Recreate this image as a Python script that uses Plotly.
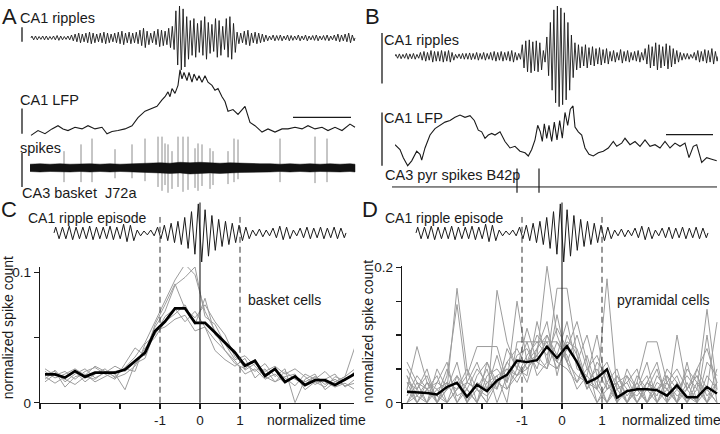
import plotly.graph_objects as go

# ---------------- data ----------------
# A: CA1 ripple (amplitude per ripple cycle, arbitrary units)
ripple_A_amp = [2, 2, 1.5, 2, 2, 1.5, 2, 2.5, 2, 1.5, 2, 3,
                4, 5, 4, 5, 6, 5, 4, 5, 6, 5, 4, 5, 6, 7, 5, 6, 5,
                6, 8, 10, 7, 5, 7, 9, 8, 7, 10, 12,
                28, 33, 30, 22,
                18, 20, 15, 18, 22, 16, 14, 20, 18, 12, 20, 22, 15,
                6, 5, 7, 8, 5, 6, 5, 4,
                3, 2, 3, 2.5, 3, 2, 3, 2.5, 2, 3, 2, 3, 2, 2.5, 3, 2, 2.5, 3, 2, 3, 4, 3, 4, 5, 3]
ripple_A_span = [1, 325]

# A: CA1 LFP (time ms, amplitude)
lfp_A_t = [1, 8, 15, 22, 28, 33, 38, 45, 52, 58, 65, 72, 77, 82, 88, 95, 102, 108, 115, 122,
           127, 132, 135, 138, 140, 142, 145, 148, 149, 150, 152, 154, 157, 159, 162, 164, 167,
           169, 172, 175, 178, 182, 185, 188, 192, 195, 198, 203, 208, 215, 220, 225, 232, 238,
           245, 252, 258, 265, 272, 278, 285, 292, 298, 305, 312, 320, 325]
lfp_A_v = [-0.7, 4.3, 1, 6, 9.3, 6, 4.3, 7.7, 6, 9.3, 6, 7.7, 1, 3.3, 4.3, 6, 9.3, 17.7, 24.3, 27.7,
           29.3, 36, 39.3, 44.3, 39.3, 47.7, 42.7, 51, 61, 67, 57.7, 64.3, 56, 64.3, 54.3, 62.7, 56,
           61, 54.3, 61, 54.3, 51, 46, 47.7, 39.3, 34.3, 24.3, 26, 21, 29.3, 12.7, 9.3, 2.7, 6,
           2.7, 6, 6, 7.7, 6, 9.3, 6, 7.7, 4.3, 7.7, 4.3, 11, 7.7]
lfp_A_bar = [263, 321, 18]   # horizontal time scale bar (t0, t1, level)

# A: CA3 basket cell J72a spikes
spike_A_t = [34, 51, 62, 85, 102, 115, 128, 132, 135, 138, 142, 148, 153, 158, 165, 168, 172,
             180, 183, 198, 204, 208, 250, 285, 297]
spike_A_top = [17, 24, 30, 19, 24, 30, 32, 32, 25, 24, 17, 32, 32, 32, 20, 25, 24, 20, 17, 17,
               30, 29, 30, 32, 30]
spike_A_bottom = [-15, -15, -15, -11, -11, -14, -20, -24, -18, -26, -22, -20, -25, -23, -21, -24,
                  -19, -22, -18, -17, -15, -12, -15, -16, -15]
noise_A_t = [0, 10, 20, 30, 40, 50, 60, 70, 80, 90, 100, 110, 120, 130, 140, 150, 160, 170, 180,
             190, 200, 210, 220, 230, 240, 250, 260, 270, 280, 290, 300, 310, 320, 325]
noise_A_upper = [3.5, 4, 3.5, 4, 3.5, 4, 4, 3.5, 4, 3.5, 4, 4, 4.5, 5, 4.5, 5.5, 5, 5.5, 5, 4.5,
                 5, 4.5, 4.5, 4, 4, 3.5, 4, 3.5, 4, 3.5, 4, 3.5, 4, 3.5]
noise_A_lower = [-4, -4.5, -4, -4, -4.5, -4, -4.5, -4, -4.5, -4, -4.5, -4.5, -5, -5.5, -6, -5.5,
                 -6.5, -6, -5.5, -6, -5.5, -5, -5, -4.5, -4.5, -4, -4.5, -4, -4.5, -4, -4, -4.5,
                 -4, -4.5]

# B: CA1 ripple
ripple_B_amp = [2, 2.5, 2, 3, 2.5, 3, 2,
                4, 5, 4, 6, 5, 5, 6, 5, 6, 4,
                2, 2.5, 3, 3, 3.5, 3, 4, 3, 4,
                3, 4, 5, 4, 5, 4, 5, 6, 4, 3,
                12, 16, 17, 15, 16, 14, 6,
                20, 35, 48, 52, 50, 45, 35, 22,
                14, 12, 10, 12, 9, 10, 8, 9, 7, 8,
                5, 6, 4, 7, 5, 6, 4, 5, 6, 4,
                8, 12, 10, 14, 12, 10, 13, 11, 8, 6, 4, 3,
                3, 2, 4, 6, 5, 7, 6, 8, 5]
ripple_B_span = [0, 323]

# B: CA1 LFP
lfp_B_t = [0, 5, 8.3, 12.7, 16.7, 21.7, 25, 26.7, 30, 35, 40, 45, 50, 55, 60, 65, 70, 75, 79.3,
           83.3, 86.7, 90, 93.3, 96.7, 100, 105, 110, 115, 120, 125, 130, 133.3, 136.7, 140,
           142.7, 145.3, 147.3, 149.3, 151.7, 154, 156.7, 159.3, 162, 164.7, 167.3, 170, 172.7,
           175.3, 178, 180, 183.3, 186.7, 190, 194, 198.3, 203.3, 208.3, 213.3, 218.3, 221.7,
           226.7, 230, 235, 240, 245, 250, 255, 260, 265, 270, 275, 280, 285, 290, 294, 298.3,
           301.7, 306.7, 311.7, 316.7, 321.7]
lfp_B_v = [21.7, 16.7, 8.3, 0, 5, 15, 11.7, 5.7, 18.3, 31.7, 38.3, 41.7, 45, 46.7, 50, 52.3, 50,
           51.7, 46.7, 36.7, 35, 28.3, 31.7, 33.3, 31.7, 35, 25, 18.3, 20, 15, 13.3, 10, 16.7,
           26.7, 41.7, 35, 25, 43.3, 28.3, 41.7, 25, 45, 26.7, 46.7, 28.3, 55, 41.7, 58.3, 61.7,
           40, 35, 31.7, 18.3, 11.7, 10, 13.3, 15, 18.3, 25, 20, 23.3, 28.3, 21.7, 25, 20, 26.7,
           20, 21.7, 18.3, 25, 18.3, 23.3, 20, 23.3, 8.3, 20, 21.7, 3.3, 8.3, 6.7, 5]
lfp_B_bar = [271, 318, 32]

# B: CA3 pyramidal cell B42p spikes
spike_B_t = [122, 144]
spike_B_top = [19, 19]
spike_B_bottom = [-6, -6]
spike_B_span = [-3, 322]

# C/D: averaged CA1 ripple episode (amplitude per cycle)
episode_amp = [6, 6, 7, 6, 6, 7, 6, 6, 7, 6, 9, 8, 3, 2, 3,
               6, 8, 10, 12, 16, 22, 30, 24, 18, 14, 12, 10, 8, 6,
               3, 4, 3, 5, 7, 6, 3, 5, 6, 5, 6, 5, 6, 5]
episode_span = [-3.65, 3.65]

time_bins = [-3.875, -3.625, -3.375, -3.125, -2.875, -2.625, -2.375, -2.125, -1.875, -1.625,
             -1.375, -1.125, -0.875, -0.625, -0.375, -0.125, 0.125, 0.375, 0.625, 0.875, 1.125,
             1.375, 1.625, 1.875, 2.125, 2.375, 2.625, 2.875, 3.125, 3.375, 3.625, 3.875]

basket_mean = [0.0217, 0.0217, 0.0193, 0.0242, 0.0198, 0.0230, 0.0230, 0.0230, 0.0254, 0.0321,
               0.0383, 0.0548, 0.0622, 0.0723, 0.0723, 0.0612, 0.0612, 0.0538, 0.0464, 0.0383,
               0.0284, 0.0321, 0.0205, 0.0259, 0.0160, 0.0202, 0.0136, 0.0173, 0.0173, 0.0136,
               0.0178, 0.0222]
basket_cells = [
    [0.024, 0.019, 0.022, 0.026, 0.021, 0.028, 0.024, 0.020, 0.027, 0.035, 0.046, 0.062, 0.078,
     0.094, 0.106, 0.098, 0.070, 0.055, 0.040, 0.030, 0.026, 0.033, 0.022, 0.025, 0.019, 0.013,
     0.022, 0.018, 0.024, 0.016, 0.020, 0.026],
    [0.018, 0.025, 0.016, 0.022, 0.026, 0.019, 0.023, 0.028, 0.024, 0.031, 0.040, 0.058, 0.070,
     0.090, 0.096, 0.104, 0.066, 0.060, 0.045, 0.033, 0.036, 0.028, 0.020, 0.016, 0.024, 0.018,
     0.014, 0.020, 0.016, 0.012, 0.015, 0.010],
    [0.026, 0.021, 0.024, 0.018, 0.024, 0.027, 0.022, 0.018, 0.030, 0.042, 0.036, 0.060, 0.075,
     0.091, 0.072, 0.065, 0.075, 0.062, 0.052, 0.035, 0.030, 0.024, 0.030, 0.020, 0.026, 0.000,
     0.018, 0.022, 0.010, 0.016, 0.020, 0.043],
    [0.020, 0.015, 0.020, 0.024, 0.016, 0.022, 0.026, 0.019, 0.022, 0.028, 0.042, 0.050, 0.062,
     0.068, 0.075, 0.060, 0.080, 0.052, 0.045, 0.040, 0.025, 0.030, 0.024, 0.028, 0.022, 0.026,
     0.020, 0.014, 0.018, 0.022, 0.012, 0.018],
    [0.016, 0.022, 0.018, 0.014, 0.020, 0.018, 0.024, 0.022, 0.010, 0.030, 0.034, 0.055, 0.058,
     0.064, 0.067, 0.055, 0.058, 0.048, 0.040, 0.032, 0.022, 0.026, 0.018, 0.022, 0.015, 0.020,
     0.016, 0.020, 0.014, 0.018, 0.013, 0.015],
    [0.022, 0.024, 0.012, 0.020, 0.022, 0.016, 0.020, 0.024, 0.026, 0.024, 0.045, 0.052, 0.066,
     0.072, 0.062, 0.070, 0.058, 0.040, 0.033, 0.028, 0.034, 0.019, 0.026, 0.016, 0.020, 0.022,
     0.010, 0.016, 0.012, 0.020, 0.017, 0.024],
]

pyr_mean = [0.0162, 0.0155, 0.0145, 0.0124, 0.0233, 0.0295, 0.0090, 0.0267, 0.0171, 0.0329,
            0.0414, 0.0624, 0.0600, 0.0629, 0.0829, 0.0662, 0.0838, 0.0600, 0.0295, 0.0367,
            0.0495, 0.0076, 0.0171, 0.0200, 0.0200, 0.0186, 0.0105, 0.0257, 0.0081, 0.0081,
            0.0233, 0.0138]
pyr_cells = [
    [0.02, 0.083, 0.03, 0.0, 0.02, 0.04, 0.0, 0.02, 0.01, 0.03, 0.05, 0.04, 0.06, 0.07, 0.09, 0.05,
     0.08, 0.06, 0.02, 0.04, 0.0, 0.02, 0.03, 0.0, 0.02, 0.0, 0.04, 0.02, 0.0, 0.02, 0.138, 0.02],
    [0.04, 0.01, 0.0, 0.03, 0.02, 0.169, 0.05, 0.0, 0.03, 0.02, 0.06, 0.08, 0.05, 0.07, 0.202, 0.10,
     0.06, 0.04, 0.03, 0.02, 0.05, 0.0, 0.04, 0.02, 0.0, 0.03, 0.02, 0.04, 0.0, 0.03, 0.02, 0.0],
    [0.0, 0.03, 0.02, 0.0, 0.04, 0.145, 0.03, 0.02, 0.0, 0.166, 0.09, 0.05, 0.04, 0.12, 0.06, 0.169,
     0.169, 0.07, 0.03, 0.0, 0.02, 0.03, 0.0, 0.02, 0.04, 0.0, 0.02, 0.0, 0.03, 0.0, 0.02, 0.119],
    [0.03, 0.0, 0.02, 0.04, 0.0, 0.02, 0.04, 0.083, 0.083, 0.083, 0.03, 0.15, 0.06, 0.08, 0.10, 0.07,
     0.12, 0.05, 0.04, 0.02, 0.183, 0.02, 0.0, 0.03, 0.09, 0.09, 0.03, 0.0, 0.02, 0.04, 0.0, 0.03],
    [0.05, 0.02, 0.04, 0.0, 0.03, 0.0, 0.02, 0.05, 0.03, 0.04, 0.0, 0.09, 0.09, 0.09, 0.09, 0.09,
     0.06, 0.10, 0.05, 0.03, 0.0, 0.04, 0.02, 0.0, 0.03, 0.02, 0.0, 0.10, 0.02, 0.0, 0.04, 0.02],
    [0.0, 0.02, 0.0, 0.05, 0.02, 0.03, 0.0, 0.04, 0.06, 0.02, 0.08, 0.05, 0.11, 0.06, 0.05, 0.09,
     0.07, 0.03, 0.05, 0.07, 0.03, 0.0, 0.05, 0.02, 0.06, 0.0, 0.03, 0.05, 0.02, 0.05, 0.08, 0.03],
    [0.02, 0.0, 0.03, 0.02, 0.0, 0.04, 0.02, 0.0, 0.04, 0.05, 0.03, 0.07, 0.08, 0.05, 0.10, 0.06,
     0.09, 0.08, 0.03, 0.05, 0.02, 0.03, 0.0, 0.04, 0.02, 0.05, 0.0, 0.02, 0.04, 0.02, 0.0, 0.05],
    [0.06, 0.03, 0.0, 0.02, 0.03, 0.02, 0.05, 0.02, 0.0, 0.03, 0.06, 0.04, 0.07, 0.09, 0.07, 0.11,
     0.08, 0.06, 0.10, 0.04, 0.06, 0.02, 0.03, 0.05, 0.0, 0.02, 0.04, 0.0, 0.06, 0.0, 0.10, 0.0],
    [0.01, 0.04, 0.02, 0.03, 0.06, 0.0, 0.03, 0.02, 0.05, 0.0, 0.04, 0.06, 0.03, 0.08, 0.12, 0.04,
     0.10, 0.07, 0.02, 0.06, 0.04, 0.0, 0.02, 0.01, 0.03, 0.06, 0.0, 0.03, 0.0, 0.05, 0.02, 0.0],
    [0.03, 0.02, 0.05, 0.0, 0.02, 0.06, 0.0, 0.03, 0.02, 0.07, 0.02, 0.05, 0.09, 0.04, 0.06, 0.05,
     0.08, 0.12, 0.06, 0.0, 0.03, 0.05, 0.0, 0.02, 0.0, 0.04, 0.02, 0.0, 0.05, 0.03, 0.0, 0.02],
    [0.0, 0.01, 0.03, 0.01, 0.0, 0.02, 0.03, 0.06, 0.02, 0.04, 0.05, 0.03, 0.06, 0.10, 0.08, 0.06,
     0.05, 0.03, 0.07, 0.02, 0.0, 0.03, 0.04, 0.0, 0.03, 0.01, 0.05, 0.03, 0.01, 0.0, 0.06, 0.04],
    [0.04, 0.0, 0.02, 0.01, 0.05, 0.01, 0.02, 0.0, 0.06, 0.03, 0.02, 0.04, 0.05, 0.07, 0.05, 0.13,
     0.06, 0.02, 0.04, 0.10, 0.02, 0.04, 0.01, 0.03, 0.0, 0.02, 0.03, 0.01, 0.02, 0.04, 0.01, 0.03],
]

# scale bars (data units of each trace)
bar_ripple_A = [-4, 11]
bar_lfp_A = [1, 27]
bar_spike_A = [-20, 15]
bar_ripple_B = [-28, 24]
bar_lfp_B = [0, 55]

# ---------------- layout helpers ----------------
W, H = 720, 434
FONT = "Liberation Sans, Arial, sans-serif"
INK = "#1a1a1a"
GRAY = "#9c9c9c"
LBL = 14.5

fig = go.Figure()
axes = {}


def add_axes(n, xpx, ypx, xr, yr):
    s = "" if n == 1 else str(n)
    axes["xaxis" + s] = dict(domain=[xpx[0] / W, xpx[1] / W], range=xr, visible=False,
                             anchor="y" + s, fixedrange=True)
    axes["yaxis" + s] = dict(domain=[1 - ypx[1] / H, 1 - ypx[0] / H], range=yr, visible=False,
                             anchor="x" + s, fixedrange=True)
    return "x" + s, "y" + s


def zigzag(span, amps):
    step = (span[1] - span[0]) / len(amps)
    xs, ys = [span[0]], [0]
    for i, a in enumerate(amps):
        xs += [span[0] + step * (i + 0.25), span[0] + step * (i + 0.75)]
        ys += [a, -a]
    xs.append(span[1])
    ys.append(0)
    return xs, ys


def line(x, y, xa, ya, color=INK, width=1.0):
    fig.add_trace(go.Scatter(x=x, y=y, mode="lines", xaxis=xa, yaxis=ya,
                             line=dict(color=color, width=width), hoverinfo="skip",
                             showlegend=False))


def vbar(xpx, ya, yvals):
    fig.add_shape(type="line", xref="paper", yref=ya, x0=xpx / W, x1=xpx / W,
                  y0=yvals[0], y1=yvals[1], line=dict(color=INK, width=1.3))


def hbar(xa, ya, b):
    fig.add_shape(type="line", xref=xa, yref=ya, x0=b[0], x1=b[1], y0=b[2], y1=b[2],
                  line=dict(color=INK, width=1.3))


def text(s, xpx, ypx, size=LBL, angle=0, xanchor="left"):
    fig.add_annotation(text=s, x=xpx / W, y=1 - ypx / H, xref="paper", yref="paper",
                       showarrow=False, xanchor=xanchor, yanchor="middle", textangle=angle,
                       font=dict(family=FONT, size=size, color=INK), borderpad=0)


# ---------------- axes ----------------
xC, yC = add_axes(1, (40, 354), (269.6, 410), [-4, 3.85], [0, 0.104])
xD, yD = add_axes(2, (402, 720), (269, 410), [-4, 3.95], [0, 0.2014])
xRA, yRA = add_axes(3, (30, 356), (0, 68), [0, 326], [-35, 33])
xLA, yLA = add_axes(4, (30, 356), (63, 137), [0, 326], [-4, 70])
xSA, ySA = add_axes(5, (30, 356), (130, 200), [0, 326], [-33, 37])
xRB, yRB = add_axes(6, (395, 718), (0, 108), [0, 323], [-56, 52])
xLB, yLB = add_axes(7, (395, 718), (100, 170), [0, 323], [-5, 65])
xSB, ySB = add_axes(8, (392, 718), (165, 195), [-3, 323], [-8, 22])
xEC, yEC = add_axes(9, (40, 354), (203, 266), [-4, 3.85], [-31.5, 31.5])
xED, yED = add_axes(10, (402, 720), (203, 266), [-4, 3.95], [-31.5, 31.5])

tick_common = dict(visible=True, showline=True, linecolor=INK, linewidth=1.2, ticks="outside",
                   ticklen=5, tickwidth=1.2, tickcolor=INK, showgrid=False, zeroline=False,
                   tickfont=dict(family=FONT, size=13.5, color=INK))
axes["xaxis"].update(tick_common, tickvals=[-4, -3, -2, -1, 0, 1, 2, 3],
                     ticktext=["", "", "", "-1", "0", "1", "", ""])
axes["yaxis"].update(tick_common, tickvals=[0, 0.05, 0.1], ticktext=["0", "", "0.1"])
axes["xaxis2"].update(tick_common, tickvals=[-4, -3, -2, -1, 0, 1, 2, 3],
                      ticktext=["", "", "", "-1", "0", "1", "", ""])
axes["yaxis2"].update(tick_common, tickvals=[0, 0.05, 0.1, 0.15, 0.2],
                      ticktext=["0", "", "", "", "0.2"])

# ---------------- panel A ----------------
line(*zigzag(ripple_A_span, ripple_A_amp), xRA, yRA, width=0.9)
line(lfp_A_t, lfp_A_v, xLA, yLA, width=1.1)
sx, sy = [], []
for t, top, bot in zip(spike_A_t, spike_A_top, spike_A_bottom):
    sx += [t, t, None]
    sy += [bot, top, None]
line(sx, sy, xSA, ySA, color="#808080", width=0.9)
fig.add_trace(go.Scatter(x=noise_A_t + noise_A_t[::-1], y=noise_A_upper + noise_A_lower[::-1],
                         mode="lines", fill="toself", fillcolor="#111111",
                         line=dict(color="#111111", width=0.5), xaxis=xSA, yaxis=ySA,
                         hoverinfo="skip", showlegend=False))
vbar(22, yRA, bar_ripple_A)
vbar(22, yLA, bar_lfp_A)
vbar(22, ySA, bar_spike_A)
hbar(xLA, yLA, lfp_A_bar)

# ---------------- panel B ----------------
line(*zigzag(ripple_B_span, ripple_B_amp), xRB, yRB, width=0.9)
line(lfp_B_t, lfp_B_v, xLB, yLB, width=1.1)
line(spike_B_span, [0, 0], xSB, ySB, width=1.0)
bx, by = [], []
for t, top, bot in zip(spike_B_t, spike_B_top, spike_B_bottom):
    bx += [t, t, None]
    by += [bot, top, None]
line(bx, by, xSB, ySB, width=1.2)
vbar(382, yRB, bar_ripple_B)
vbar(382, yLB, bar_lfp_B)
hbar(xLB, yLB, lfp_B_bar)

# ---------------- panels C / D ----------------
for cell in basket_cells:
    line(time_bins, cell, xC, yC, color=GRAY, width=1.0)
line(time_bins, basket_mean, xC, yC, color="#000000", width=2.8)
for cell in pyr_cells:
    line(time_bins, cell, xD, yD, color=GRAY, width=1.0)
line(time_bins, pyr_mean, xD, yD, color="#000000", width=2.4)

line(*zigzag(episode_span, episode_amp), xEC, yEC, width=1.0)
line(*zigzag(episode_span, episode_amp), xED, yED, width=1.0)

for xa in (xC, xD):
    fig.add_shape(type="line", xref=xa, yref="paper", x0=0, x1=0, y0=1 - 410 / H,
                  y1=1 - 203 / H, line=dict(color=INK, width=1.1))
    for tv in (-1, 1):
        fig.add_shape(type="line", xref=xa, yref="paper", x0=tv, x1=tv, y0=1 - 410 / H,
                      y1=1 - 218 / H, line=dict(color="#333333", width=1.0, dash="6px,4px"))

# ---------------- text ----------------
text("A", 1, 11, size=22)
text("CA1 ripples", 19, 12)
text("CA1 LFP", 19, 97)
text("spikes", 19, 147)
text("CA3 basket\u00a0 J72a", 21, 193)
text("B", 364, 11, size=22)
text("CA1 ripples", 383, 35)
text("CA1 LFP", 383, 116)
text("CA3 pyr spikes B42p", 384, 175)
text("C", 0, 210, size=22)
text("D", 361, 210, size=22)
text("CA1 ripple episode", 27, 219, size=14)
text("CA1 ripple episode", 384, 219, size=14)
text("basket cells", 247, 304, size=14)
text("pyramidal cells", 616, 304, size=14)
text("normalized time", 266, 428, size=14)
text("normalized time", 621, 428, size=14)
text("normalized spike count", 8, 333, size=14, angle=-90, xanchor="center")
text("normalized spike count", 368, 337, size=14, angle=-90, xanchor="center")

fig.update_layout(width=W, height=H, margin=dict(l=0, r=0, t=0, b=0, pad=0),
                  paper_bgcolor="white", plot_bgcolor="rgba(0,0,0,0)", showlegend=False,
                  **axes)
fig.write_html("out.html", config={"displayModeBar": False, "staticPlot": True},
               post_script="document.body.style.margin='0px';")
